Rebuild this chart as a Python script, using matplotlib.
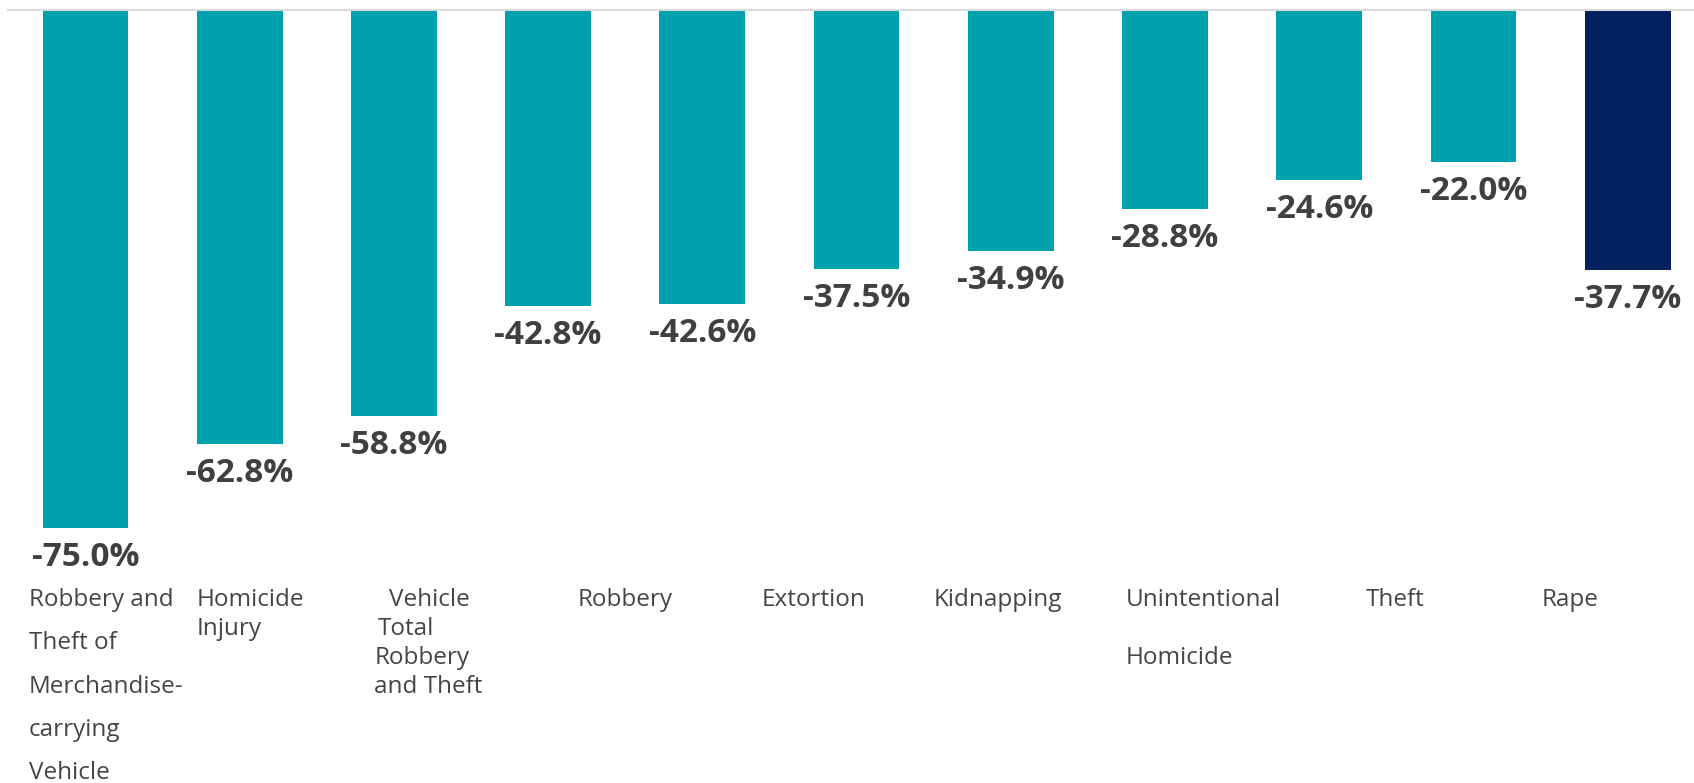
import matplotlib
matplotlib.use('Agg')
import matplotlib.pyplot as plt
import numpy as np

# data
values = [-75.0, -62.8, -58.8, -42.8, -42.6, -37.5, -34.9, -28.8, -24.6, -22.0, -37.7]
value_labels = ['-75.0%', '-62.8%', '-58.8%', '-42.8%', '-42.6%', '-37.5%',
                '-34.9%', '-28.8%', '-24.6%', '-22.0%', '-37.7%']
categories = ['Robbery and\nTheft of\nMerchandise-\ncarrying\nVehicle',
              'Homicide\nInjury',
              'Vehicle\nTotal\nRobbery\nand Theft',
              'Robbery', 'Extortion', 'Kidnapping',
              'Unintentional\nHomicide', 'Theft', 'Rape']

# layout of the free-standing category text boxes (pixels)
label_left = [29, 197, 389, 578, 762, 934, 1126, 1366, 1542]
label_gap = [43.3, 29, 29, 29, 29, 29, 57.5, 29, 29]
line_indent = {2: [0, -11, -14, -15]}
first_baseline = 606

W, H = 1694, 783
teal = '#00A1AF'
navy = '#03205F'
colors = [teal] * 10 + [navy]

fig = plt.figure(figsize=(W / 100, H / 100), dpi=100)
ax = fig.add_axes([8.3 / W, 0, 1 - 8.3 / W, 1 - 10 / H])

x = np.arange(len(values))
ax.bar(x, values, width=0.556, color=colors, zorder=2)

# value labels under each bar
for xi, v, lab in zip(x, values, value_labels):
    ax.annotate(lab, (xi, v), xytext=(0, -13), textcoords='offset pixels',
                ha='center', va='top', fontsize=24, fontweight='bold',
                family='Open Sans', color='#404040')

ax.set_xlim(-0.5, (W - 85.7) / 154.2)
ax.set_ylim(-(H - 10) / 6.907, 0)

ax.set_xticks([])
ax.set_yticks([])
for s in ['left', 'right', 'bottom']:
    ax.spines[s].set_visible(False)
ax.spines['top'].set_color('#d9d9d9')
ax.spines['top'].set_linewidth(1.5)
ax.spines['top'].set_zorder(3)

# category labels
for i, cat in enumerate(categories):
    lines = cat.split('\n')
    indent = line_indent.get(i, [0] * len(lines))
    for j, line in enumerate(lines):
        px = label_left[i] + indent[j]
        py = first_baseline + j * label_gap[i]
        fig.text(px / W, 1 - py / H, line, ha='left', va='baseline',
                 fontsize=17.5, family='Open Sans', color='#454545')

fig.savefig('out.png', dpi=100)
